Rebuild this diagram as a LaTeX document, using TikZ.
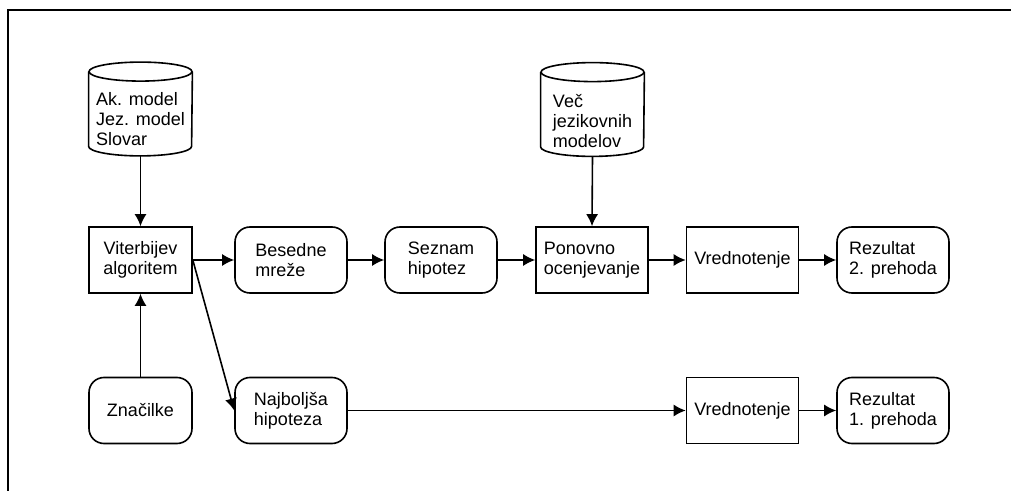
\documentclass[tikz,border=0pt]{standalone}
\usepackage{fontspec}
\setmainfont{Liberation Sans}
\usetikzlibrary{arrows.meta}
\usetikzlibrary{calc}

\tikzset{
  box/.style={draw, line width=0.8pt, minimum width=56pt, minimum height=33pt,
    inner sep=2pt, align=left, font=\fontsize{9}{10}\selectfont},
  rbox/.style={box, rounded corners=7.5pt},
  dbbox/.style={minimum width=51.5pt, minimum height=46.5pt, inner sep=0pt},
  dbtxt/.style={align=left, inner sep=0pt, font=\fontsize{9}{10}\selectfont},
  arr/.style={line width=0.8pt, -{Latex[length=6pt,width=6pt]}},
  line/.style={line width=0.8pt}
}

\begin{document}
\begin{tikzpicture}[x=0.5pt,y=-0.5pt]
\useasboundingbox (0,0) rectangle (1011,491);

%frame
\draw[line] (8,491) -- (8,10) -- (1011,10);

%cylinders
\node[dbbox] (lex) at (140.5,109) {};
\node[dbtxt] (lextxt) at (140.5,119) {Ak. model\\Jez. model\\Slovar};
\draw[line] ([yshift=-4.75pt]lex.north west) -- ([yshift=4.75pt]lex.south west)
  arc[start angle=180,end angle=360,x radius=25.75pt,y radius=4.75pt]
  -- ([yshift=-4.75pt]lex.north east);
\draw[line] ([yshift=-4.75pt]lex.north) ellipse[x radius=25.75pt,y radius=4.75pt];

\node[dbbox] (lms) at (592.5,109.5) {};
\node[dbtxt] (lmstxt) at (592.5,121) {Več\\jezikovnih\\modelov};
\draw[line] ([yshift=-4.75pt]lms.north west) -- ([yshift=4.75pt]lms.south west)
  arc[start angle=180,end angle=360,x radius=25.75pt,y radius=4.75pt]
  -- ([yshift=-4.75pt]lms.north east);
\draw[line] ([yshift=-4.75pt]lms.north) ellipse[x radius=25.75pt,y radius=4.75pt];

%first row
\node[box, minimum width=51.5pt, align=center] (vit) at (140.5,260) {Viterbijev\\algoritem};
\node[rbox] (bes) at (291,260) {Besedne\\mreže};
\node[rbox] (sez) at (441,260) {Seznam\\hipotez};
\node[box] (pon) at (592,260) {Ponovno\\ocenjevanje};
\node[box] (vr2) at (742.5,260) {Vrednotenje};
\node[rbox] (rez2) at (893,260) {Rezultat\\2. prehoda};

%second row
\node[rbox, minimum width=51.5pt] (zna) at (140.5,410.5) {Značilke};
\node[rbox] (naj) at (291,410.5) {Najboljša\\hipoteza};
\node[box] (vr1) at (742.5,410.5) {Vrednotenje};
\node[rbox] (rez1) at (893,410.5) {Rezultat\\1. prehoda};

%arrows
\draw[arr] (lex.south) -- (vit.north);
\draw[arr] (lms.south) -- (pon.north);
\draw[arr] (zna.north) -- (vit.south);
\draw[arr] (vit.east) -- (bes.west);
\draw[arr] (bes.east) -- (sez.west);
\draw[arr] (sez.east) -- (pon.west);
\draw[arr] (pon.east) -- (vr2.west);
\draw[arr] (vr2.east) -- (rez2.west);
\draw[arr] (vit.east) -- (naj.west);
\draw[arr] (naj.east) -- (vr1.west);
\draw[arr] (vr1.east) -- (rez1.west);

\end{tikzpicture}
\end{document}
